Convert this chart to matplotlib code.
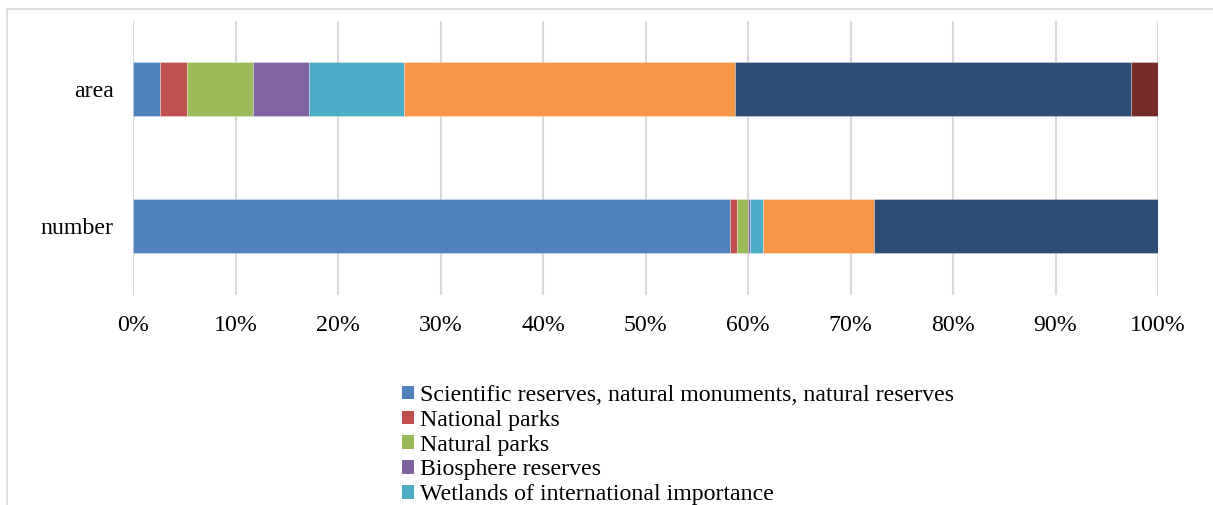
import matplotlib
matplotlib.use("Agg")
import matplotlib.pyplot as plt
from matplotlib.lines import Line2D
from matplotlib.patches import Patch
from matplotlib.ticker import PercentFormatter

plt.rcParams['font.family'] = ['Liberation Serif', 'DejaVu Serif']

categories = ['number', 'area']  # bottom to top
series_names = [
    'Scientific reserves, natural monuments, natural reserves',
    'National parks',
    'Natural parks',
    'Biosphere reserves',
    'Wetlands of international importance',
    'Series 6',
    'Series 7',
    'Series 8',
]
# percentage shares: [number, area]
s1 = [58.2, 2.6]
s2 = [0.7, 2.65]
s3 = [1.1, 6.45]
s4 = [0.2, 5.5]
s5 = [1.3, 9.2]
s6 = [10.8, 32.3]
s7 = [27.7, 38.7]
s8 = [0.0, 2.6]
series_values = [s1, s2, s3, s4, s5, s6, s7, s8]
legend_count = 5  # entries visible in the reference

colors = ['#4F81BD', '#C0504D', '#9BBB59', '#8064A2', '#4BACC6',
          '#F79646', '#2C4D75', '#772C2A']

FS = 17.2
W, H = 1213, 505
fig = plt.figure(figsize=(W / 100, H / 100), dpi=100)

ax_left, ax_right = 133, 1158
ax_top, ax_bottom = 20.5, 294.5
ax = fig.add_axes([ax_left / W, 1 - ax_bottom / H, (ax_right - ax_left) / W,
                   (ax_bottom - ax_top) / H])

ypos = list(range(len(categories)))
left = [0.0] * len(categories)
for name, vals, c in zip(series_names, series_values, colors):
    ax.barh(ypos, vals, left=left, height=0.4, color=c, label=name,
            edgecolor=(1, 1, 1, 0.35), linewidth=0.6, zorder=3)
    left = [l + v for l, v in zip(left, vals)]

ax.set_xlim(0, 100)
ax.set_ylim(-0.5, len(categories) - 0.5)
ax.set_xticks(range(0, 101, 10))
ax.xaxis.set_major_formatter(PercentFormatter(decimals=0))
ax.set_yticks(ypos)
ax.set_yticklabels(categories)
ax.grid(axis='x', color='#d9d9d9', linewidth=1.5, zorder=0)
for s in ax.spines.values():
    s.set_visible(False)
ax.tick_params(axis='both', length=0, labelsize=FS, colors='black')
ax.tick_params(axis='x', pad=15)
ax.tick_params(axis='y', pad=14)

handles = [Patch(facecolor=colors[i], edgecolor='none') for i in range(legend_count)]
fig.legend(handles, series_names[:legend_count], loc='upper left',
           bbox_to_anchor=(402 / W, 1 - 385 / H), frameon=False,
           fontsize=FS, handlelength=0.5, handleheight=0.5,
           handletextpad=0.25, labelspacing=0.16, borderpad=0, borderaxespad=0)

# outer chart border (top and left visible)
fig.add_artist(Line2D([7 / W, 1.0], [1 - 9 / H, 1 - 9 / H], color='#d9d9d9', linewidth=1.2))
fig.add_artist(Line2D([7 / W, 7 / W], [1 - 9 / H, 0.0], color='#d9d9d9', linewidth=1.2))

fig.savefig('out.png', dpi=100)
